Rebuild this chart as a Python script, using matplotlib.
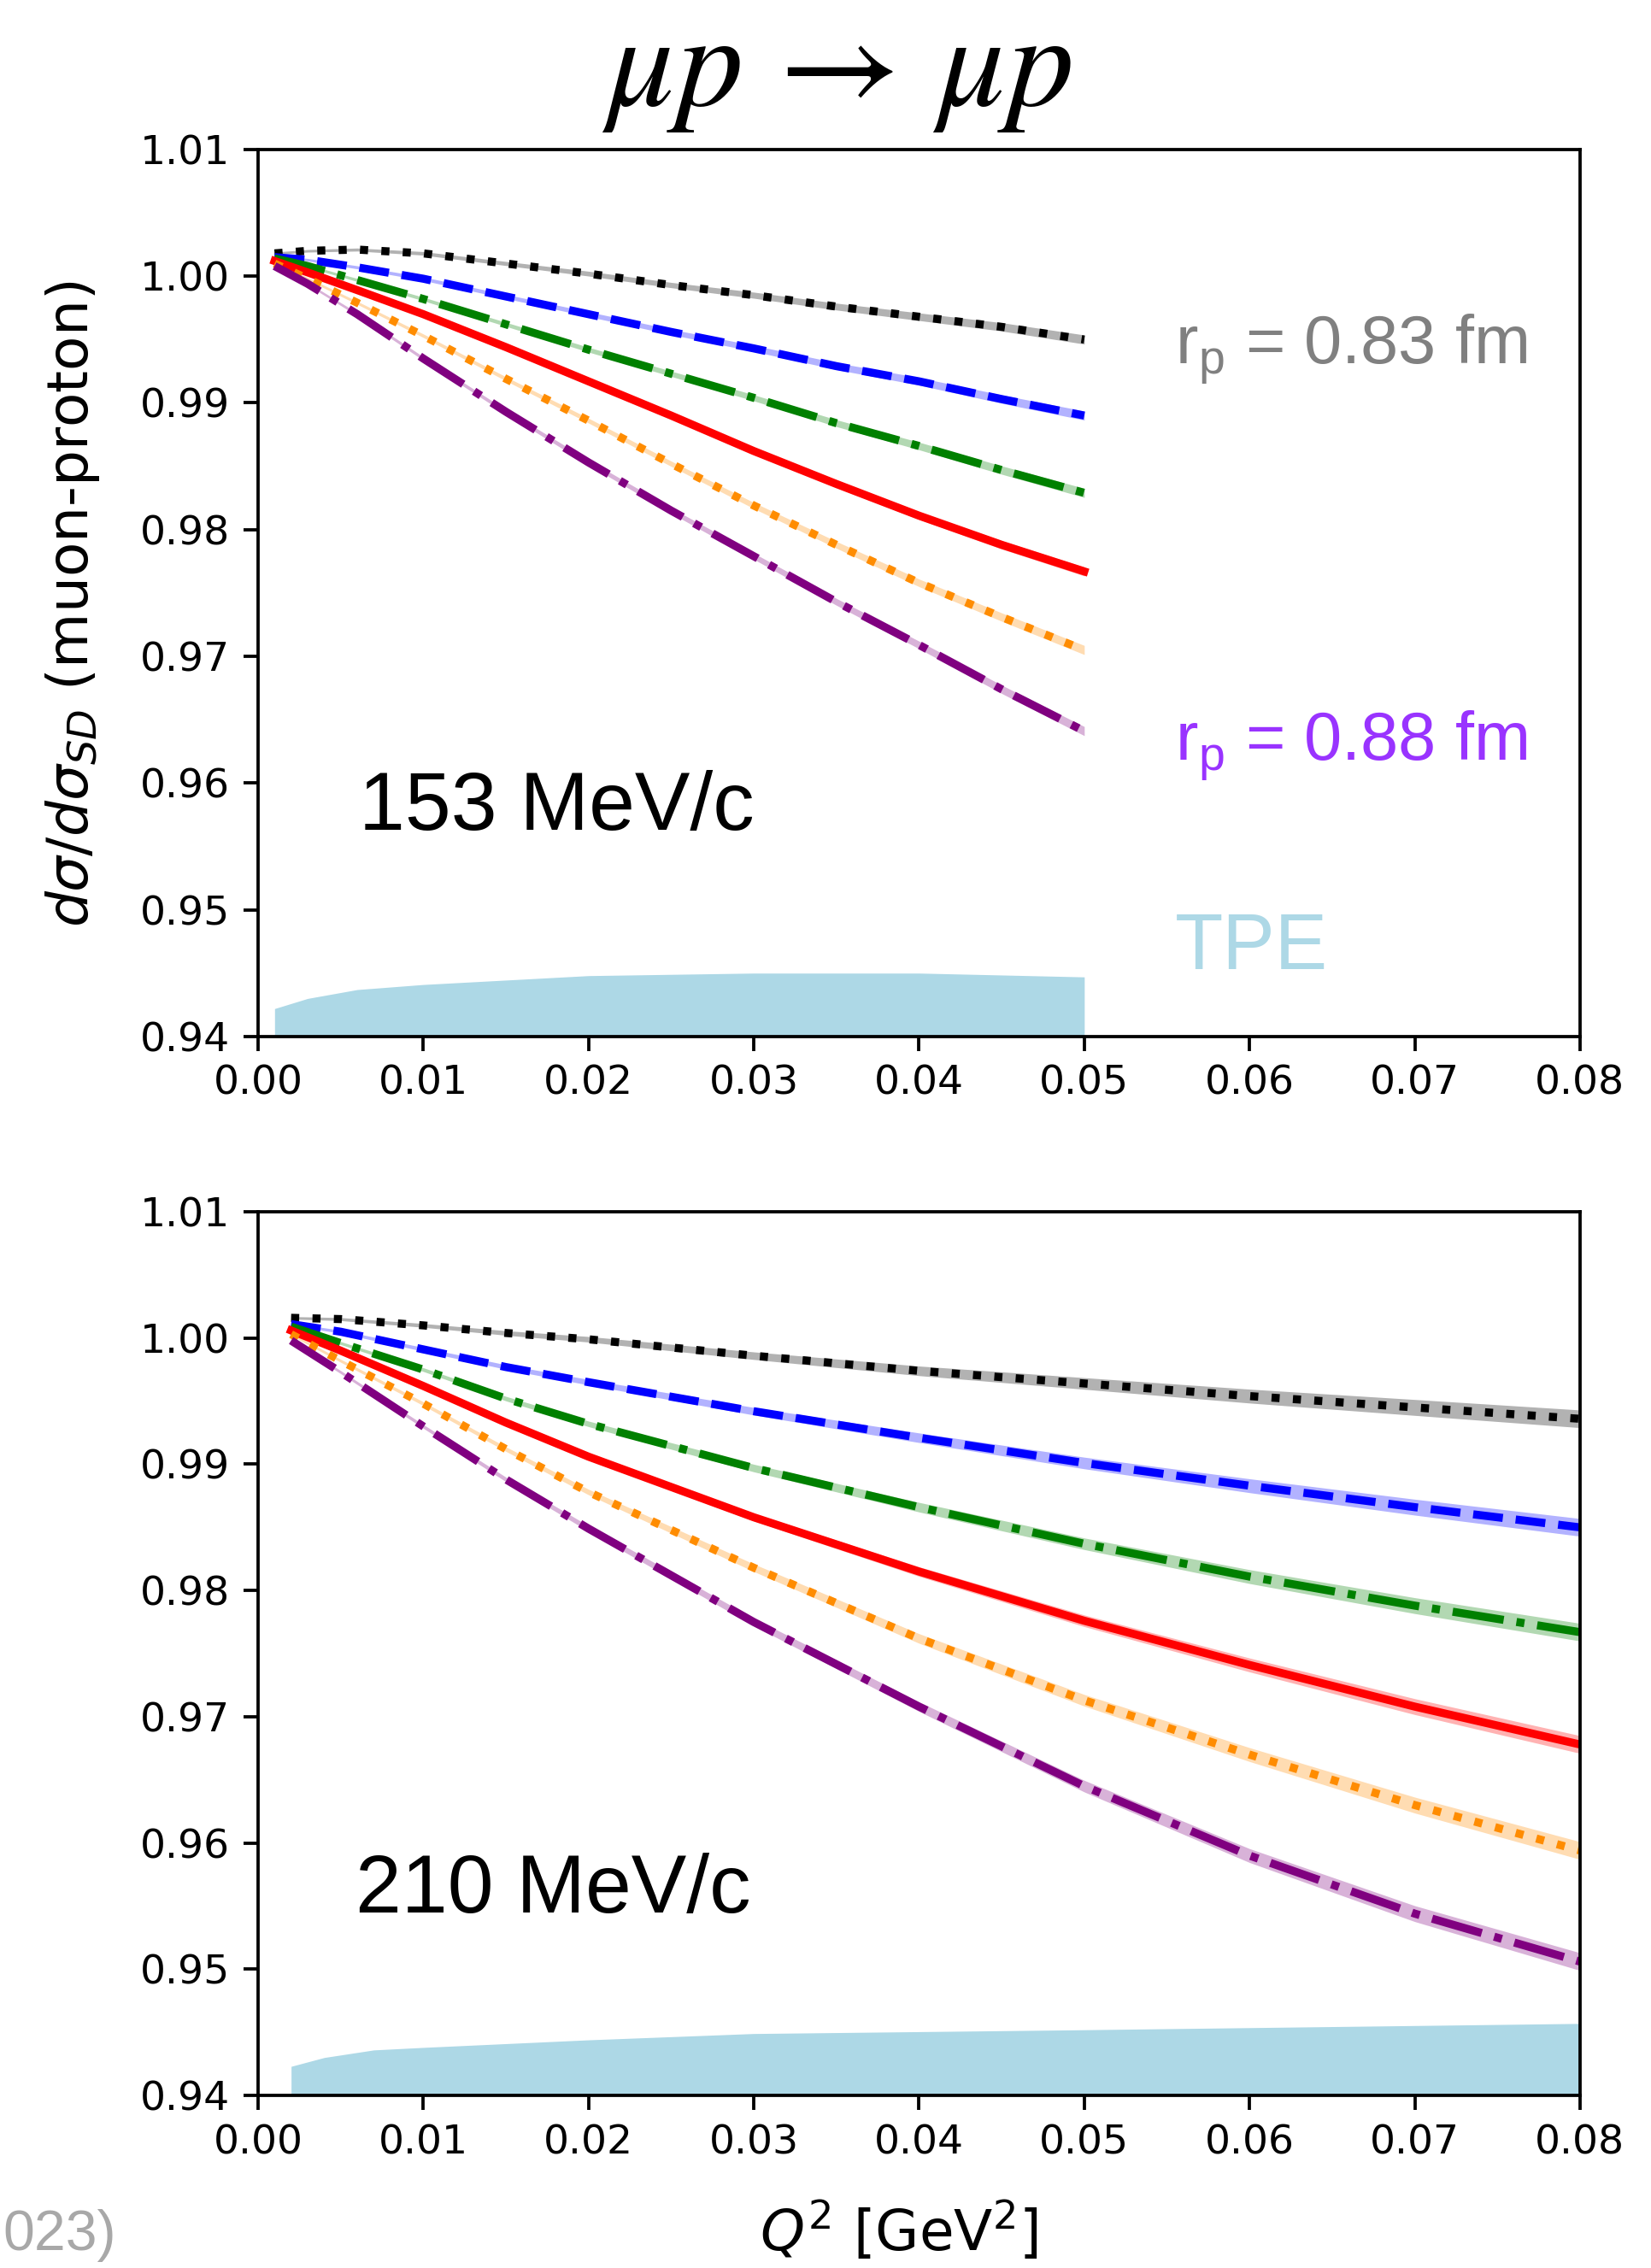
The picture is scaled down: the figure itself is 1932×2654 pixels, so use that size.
import numpy as np
import matplotlib.pyplot as plt

plt.rcParams["mathtext.rm"] = "Liberation Sans"
plt.rcParams["mathtext.it"] = "Liberation Sans:italic"
plt.rcParams["mathtext.bf"] = "Liberation Sans:bold"

# 153 MeV/c panel
q2_153 = [0.001, 0.003, 0.006, 0.01, 0.015, 0.02, 0.025, 0.03, 0.035, 0.04, 0.045, 0.05]
ratio_153 = {
    "black": [1.0018, 1.0020, 1.0021, 1.0018, 1.0010, 1.0002, 0.9993, 0.9985, 0.9976, 0.9968, 0.9960, 0.9950],
    "blue": [1.0015, 1.0013, 1.0007, 0.9998, 0.9984, 0.9970, 0.9956, 0.9943, 0.9929, 0.9917, 0.9903, 0.9890],
    "green": [1.0014, 1.0008, 0.9997, 0.9982, 0.9962, 0.9942, 0.9923, 0.9904, 0.9884, 0.9866, 0.9847, 0.9829],
    "red": [1.0012, 1.0003, 0.9989, 0.9970, 0.9944, 0.9917, 0.9890, 0.9862, 0.9836, 0.9811, 0.9788, 0.9767],
    "darkorange": [1.0010, 0.9998, 0.9979, 0.9953, 0.9919, 0.9886, 0.9852, 0.9819, 0.9788, 0.9758, 0.9731, 0.9705],
    "purple": [1.0008, 0.9994, 0.9970, 0.9935, 0.9893, 0.9853, 0.9815, 0.9779, 0.9743, 0.9709, 0.9674, 0.9641],
}
band_153 = [0.0001, 0.0001, 0.00012, 0.00014, 0.00016, 0.00019, 0.00021, 0.00024, 0.00027, 0.0003, 0.00033, 0.00036]
tpe_q2_153 = [0.001, 0.003, 0.006, 0.01, 0.02, 0.03, 0.04, 0.05]
tpe_153 = [0.9422, 0.9430, 0.9437, 0.9441, 0.9448, 0.9450, 0.9450, 0.9447]

# 210 MeV/c panel
q2_210 = [0.002, 0.005, 0.01, 0.015, 0.02, 0.03, 0.04, 0.05, 0.06, 0.07, 0.08]
ratio_210 = {
    "black": [1.0016, 1.0015, 1.0010, 1.0004, 0.9999, 0.9986, 0.9974, 0.9964, 0.9954, 0.9945, 0.9936],
    "blue": [1.0011, 1.0005, 0.9991, 0.9977, 0.9965, 0.9942, 0.9921, 0.9901, 0.9883, 0.9866, 0.9850],
    "green": [1.0009, 0.9996, 0.9975, 0.9952, 0.9932, 0.9897, 0.9866, 0.9837, 0.9811, 0.9788, 0.9767],
    "red": [1.0006, 0.9990, 0.9962, 0.9933, 0.9906, 0.9858, 0.9815, 0.9776, 0.9741, 0.9708, 0.9678],
    "darkorange": [1.0003, 0.9982, 0.9948, 0.9912, 0.9878, 0.9818, 0.9762, 0.9713, 0.9670, 0.9630, 0.9594],
    "purple": [0.9998, 0.9973, 0.9930, 0.9888, 0.9849, 0.9775, 0.9708, 0.9645, 0.9590, 0.9544, 0.9506],
}
band_210 = [0.0001, 0.00012, 0.00015, 0.00018, 0.00022, 0.0003, 0.00038, 0.00046, 0.00055, 0.00063, 0.0007]
tpe_q2_210 = [0.002, 0.004, 0.007, 0.01, 0.02, 0.03, 0.05, 0.08]
tpe_210 = [0.9423, 0.9430, 0.9436, 0.9438, 0.9444, 0.9449, 0.9452, 0.9457]

line_styles = {"black": ":", "blue": "--", "green": "-.", "red": "-", "darkorange": ":", "purple": "-."}
y_ticks = [0.94, 0.95, 0.96, 0.97, 0.98, 0.99, 1.00, 1.01]
x_ticks = [0.00, 0.01, 0.02, 0.03, 0.04, 0.05, 0.06, 0.07, 0.08]


def draw_panel(ax, q2, ratios, band, tpe_q2, tpe):
    ax.fill_between(tpe_q2, 0.94, tpe, color="lightblue", lw=0)
    x = np.array(q2)
    err = np.array(band)
    for color, values in ratios.items():
        y = np.array(values)
        ax.fill_between(x, y - err, y + err, color=color, alpha=0.3, lw=0)
        ax.plot(x, y, color=color, ls=line_styles[color], lw=2.0)
    ax.set_xlim(0, 0.08)
    ax.set_ylim(0.94, 1.01)
    ax.set_xticks(x_ticks)
    ax.set_yticks(y_ticks)
    ax.set_xticklabels([f"{t:.2f}" for t in x_ticks])
    ax.set_yticklabels([f"{t:.2f}" for t in y_ticks])


fig = plt.figure(figsize=(1932 / 340, 2654 / 340), dpi=340)
ax1 = fig.add_axes([0.1563, 0.5430, 0.8007, 0.3911])
ax2 = fig.add_axes([0.1563, 0.0761, 0.8007, 0.3896])
draw_panel(ax1, q2_153, ratio_153, band_153, tpe_q2_153, tpe_153)
draw_panel(ax2, q2_210, ratio_210, band_210, tpe_q2_210, tpe_210)

sans = "Liberation Sans"
ax1.text(0.0061, 0.9563, "153 MeV/c", fontsize=20.5, family=sans, va="baseline")
ax2.text(0.0059, 0.9545, "210 MeV/c", fontsize=20.5, family=sans, va="baseline")
ax1.text(0.0555, 0.9931, r"r$_\mathrm{p}$ = 0.83 fm", fontsize=16.8, family=sans,
         color="#808080", va="baseline", math_fontfamily="custom")
ax1.text(0.0555, 0.9618, r"r$_\mathrm{p}$ = 0.88 fm", fontsize=16.8, family=sans,
         color="#9933ff", va="baseline", math_fontfamily="custom")
ax1.text(0.0555, 0.9453, "TPE", fontsize=19.5, family=sans, color="lightblue", va="baseline")

fig.text(0.507, 0.9535, r"$\mu p\,\rightarrow\,\mu p$", fontsize=33, ha="center",
         va="baseline", math_fontfamily="stix")
fig.text(0.044, 0.7336, r"$d\sigma/d\sigma_{SD}$ (muon-proton)", fontsize=14,
         rotation=90, ha="center", va="center")
fig.text(0.5445, 0.0079, r"$Q^2$ [GeV$^2$]", fontsize=14, ha="center", va="baseline")
fig.text(0.002, 0.008, "023)", fontsize=14, family=sans, color="#a8a8a8", va="baseline")

fig.savefig("out.png", dpi=340)
